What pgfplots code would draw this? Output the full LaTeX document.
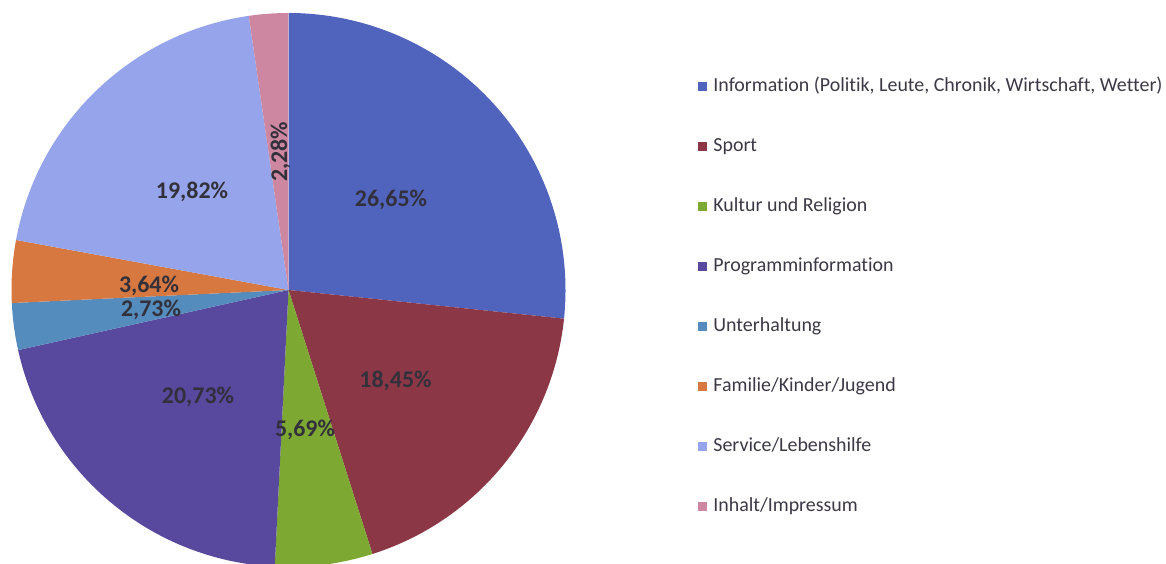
\documentclass[border=0pt]{standalone}
\usepackage{pgfplots}
\pgfplotsset{compat=1.18}
\usepackage{fontspec}
\setmainfont[Ligatures=NoCommon]{Carlito}

\definecolor{cInfo}{RGB}{80,100,190}
\definecolor{cSport}{RGB}{140,55,70}
\definecolor{cKultur}{RGB}{125,168,50}
\definecolor{cProg}{RGB}{88,72,158}
\definecolor{cUnter}{RGB}{85,140,190}
\definecolor{cFam}{RGB}{215,120,65}
\definecolor{cServ}{RGB}{150,165,235}
\definecolor{cInhalt}{RGB}{205,135,160}
\definecolor{txt}{RGB}{50,48,58}
\definecolor{legtxt}{RGB}{60,56,68}

% pie centre and radius in pixel units (1 unit = 0.5bp)
\def\cx{288.5}
\def\cy{-290}
\def\rad{138.5bp}
\def\cum{90}

% one slice: colour, percentage
\newcommand\slice[2]{%
  \edef\temp{\noexpand\fill[#1] (axis cs:\cx,\cy) -- ++(\cum:\rad)
    arc[start angle=\cum, end angle={\cum-3.6*#2}, radius=\rad] -- cycle;}%
  \temp
  \pgfmathsetmacro\cum{\cum-3.6*#2}%
}
% percentage label: value, x, baseline y (pixels)
\newcommand\plabel[3]{%
  \node[anchor=base, text=txt, font=\fontsize{12}{13}\selectfont\bfseries]
    at (axis cs:#2,-#3) {\pgfmathprintnumber[assume math mode=true,use comma,fixed,fixed zerofill,precision=2]{#1}\%};}
\newcommand\legitem[3]{%
  \fill[#2] (axis cs:697.5,{-(87+60*#1)+4.5}) rectangle (axis cs:706.5,{-(87+60*#1)-4.5});
  \node[anchor=base west, inner sep=0pt, text=legtxt, font=\fontsize{10}{11}\selectfont]
    at (axis cs:713,{-(92+60*#1)}) {#3};}

\begin{document}
\begin{tikzpicture}
\begin{axis}[
  x=0.5bp, y=0.5bp,
  xmin=0, xmax=1166, ymin=-564, ymax=0,
  hide axis,
  clip=true,
]
\slice{cInfo}{26.65}
\slice{cSport}{18.45}
\slice{cKultur}{5.69}
\slice{cProg}{20.73}
\slice{cUnter}{2.73}
\slice{cFam}{3.64}
\slice{cServ}{19.82}
\slice{cInhalt}{2.28}

\plabel{26.65}{391}{207}
\plabel{18.45}{395.5}{388}
\plabel{5.69}{305}{437}
\plabel{20.73}{198}{404}
\plabel{2.73}{151}{317}
\plabel{3.64}{149}{293}
\plabel{19.82}{192}{199}
\node[rotate=90, text=txt, font=\fontsize{12}{13}\selectfont\bfseries]
  at (axis cs:280.5,-152) {2,28\%};

\legitem{0}{cInfo}{Information (Politik, Leute, Chronik, Wirtschaft, Wetter)}
\legitem{1}{cSport}{Sport}
\legitem{2}{cKultur}{Kultur und Religion}
\legitem{3}{cProg}{Programminformation}
\legitem{4}{cUnter}{Unterhaltung}
\legitem{5}{cFam}{Familie/Kinder/Jugend}
\legitem{6}{cServ}{Service/Lebenshilfe}
\legitem{7}{cInhalt}{Inhalt/Impressum}
\end{axis}
\pgfresetboundingbox
\path (current axis.south west) rectangle (current axis.north east);
\end{tikzpicture}
\end{document}
